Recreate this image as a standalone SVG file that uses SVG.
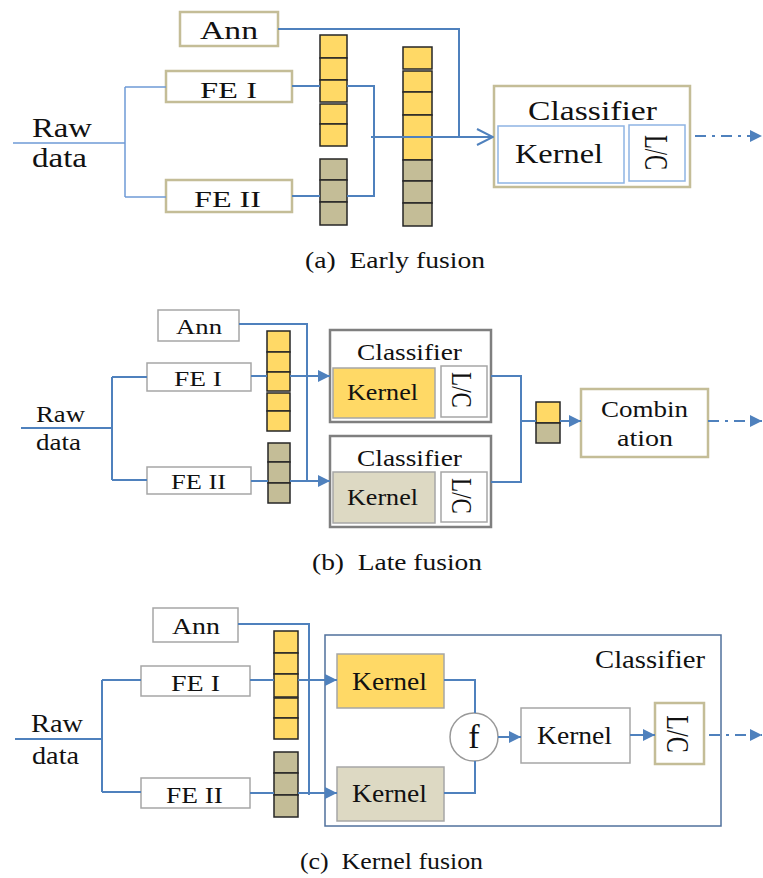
<svg xmlns="http://www.w3.org/2000/svg" width="763" height="878" viewBox="0 0 763 878">
<style>
.t{font-family:"Liberation Serif","Times New Roman",serif;fill:#111}
.tan{fill:#fff;stroke:#c4bd97;stroke-width:2.5}
.gb{fill:#fff;stroke:#a6a6a6;stroke-width:1.5}
.cls{fill:#fff;stroke:#7f7f7f;stroke-width:2.5}
.lb{fill:#fff;stroke:#8eb4e3;stroke-width:1.5}
.y{fill:#ffd966;stroke:#262626;stroke-width:1.5}
.g{fill:#c4bd97;stroke:#262626;stroke-width:1.5}
.ky{fill:#ffd966;stroke:#a6a6a6;stroke-width:1.5}
.kg{fill:#ddd9c3;stroke:#a6a6a6;stroke-width:1.5}
.c{fill:none;stroke:#4f81bd;stroke-width:2}
.cl{fill:none;stroke:#6f9bd6;stroke-width:1.5}
.dd{fill:none;stroke:#4f81bd;stroke-width:2;stroke-dasharray:11 6 3 6}
</style>
<defs>
<marker id="tri" markerUnits="userSpaceOnUse" markerWidth="12" markerHeight="12" refX="12" refY="6" orient="auto"><path d="M0,0 L12,6 L0,12 z" fill="#4f81bd"/></marker>
<marker id="chev" markerUnits="userSpaceOnUse" markerWidth="18" markerHeight="18" refX="17" refY="9" orient="auto"><path d="M1,1 L17,9 L1,17" fill="none" stroke="#4f81bd" stroke-width="2"/></marker>
</defs>

<!-- Panel (a) -->
<g id="a-ann"><rect class="tan" x="180" y="12" width="98" height="34"/><text class="t" x="200" y="39" font-size="25" textLength="58" lengthAdjust="spacingAndGlyphs">Ann</text></g>
<g id="a-fe1"><rect class="tan" x="166" y="71" width="126" height="31"/><text class="t" x="200" y="98" font-size="24" textLength="57" lengthAdjust="spacingAndGlyphs">FE I</text></g>
<g id="a-fe2"><rect class="tan" x="166" y="180" width="126" height="32"/><text class="t" x="194" y="207" font-size="24" textLength="67" lengthAdjust="spacingAndGlyphs">FE II</text></g>
<g id="a-raw"><text class="t" x="32" y="137" font-size="28" textLength="60" lengthAdjust="spacingAndGlyphs">Raw</text><text class="t" x="32" y="167" font-size="28" textLength="55" lengthAdjust="spacingAndGlyphs">data</text></g>
<g id="a-vec1">
<rect class="y" x="320" y="35" width="27" height="23"/><rect class="y" x="320" y="58" width="27" height="22"/><rect class="y" x="320" y="80" width="27" height="22"/>
<rect class="y" x="320" y="104" width="27" height="20"/><rect class="y" x="320" y="124" width="27" height="22"/>
<rect class="g" x="320" y="159" width="27" height="21"/><rect class="g" x="320" y="180" width="27" height="22"/><rect class="g" x="320" y="202" width="27" height="23"/>
</g>
<g id="a-vec2">
<rect class="y" x="403" y="47" width="29" height="22"/><rect class="y" x="403" y="71" width="29" height="21"/><rect class="y" x="403" y="92" width="29" height="23"/>
<rect class="y" x="403" y="115" width="29" height="22"/><rect class="y" x="403" y="137" width="29" height="23"/>
<rect class="g" x="403" y="160" width="29" height="21"/><rect class="g" x="403" y="181" width="29" height="22"/><rect class="g" x="403" y="203" width="29" height="23"/>
</g>
<g id="a-classifier">
<rect class="tan" x="494" y="86" width="196" height="101"/>
<text class="t" x="528" y="120" font-size="27" textLength="129" lengthAdjust="spacingAndGlyphs">Classifier</text>
<rect class="lb" x="498" y="126" width="126" height="57"/>
<text class="t" x="515" y="163" font-size="27" textLength="88" lengthAdjust="spacingAndGlyphs">Kernel</text>
<rect class="lb" x="629" y="125" width="56" height="56"/>
<text class="t" font-size="22.5" text-anchor="middle" transform="translate(645,152.5) scale(1.5,1) rotate(90)">L/C</text>
</g>

<!-- Panel (b) -->
<g id="b-ann"><rect class="gb" x="158" y="310" width="81" height="31"/><text class="t" x="176" y="334" font-size="22" textLength="46" lengthAdjust="spacingAndGlyphs">Ann</text></g>
<g id="b-fe1"><rect class="gb" x="147" y="363" width="104" height="28"/><text class="t" x="174" y="386" font-size="22" textLength="48" lengthAdjust="spacingAndGlyphs">FE I</text></g>
<g id="b-fe2"><rect class="gb" x="147" y="467" width="104" height="27"/><text class="t" x="171" y="489" font-size="22" textLength="55" lengthAdjust="spacingAndGlyphs">FE II</text></g>
<g id="b-raw"><text class="t" x="36" y="422" font-size="24" textLength="49" lengthAdjust="spacingAndGlyphs">Raw</text><text class="t" x="36" y="450" font-size="24" textLength="45" lengthAdjust="spacingAndGlyphs">data</text></g>
<g id="b-vec1">
<rect class="y" x="267" y="331" width="23" height="21"/><rect class="y" x="267" y="352" width="23" height="20"/><rect class="y" x="267" y="372" width="23" height="19"/>
<rect class="y" x="267" y="393" width="23" height="18"/><rect class="y" x="267" y="411" width="23" height="20"/>
</g>
<g id="b-vec2">
<rect class="g" x="268" y="443" width="22" height="19"/><rect class="g" x="268" y="462" width="22" height="21"/><rect class="g" x="268" y="483" width="22" height="20"/>
</g>
<g id="b-classifier1">
<rect class="cls" x="330" y="330" width="161" height="92"/>
<text class="t" x="357" y="360" font-size="23" textLength="105" lengthAdjust="spacingAndGlyphs">Classifier</text>
<rect class="ky" x="333" y="368" width="102" height="50"/>
<text class="t" x="347" y="400" font-size="23" textLength="71" lengthAdjust="spacingAndGlyphs">Kernel</text>
<rect class="gb" x="441" y="366" width="46" height="51"/>
<text class="t" font-size="23" text-anchor="middle" transform="translate(452,390) scale(1.3,1) rotate(90)">L/C</text>
</g>
<g id="b-classifier2">
<rect class="cls" x="330" y="436" width="161" height="91"/>
<text class="t" x="357" y="466" font-size="23" textLength="105" lengthAdjust="spacingAndGlyphs">Classifier</text>
<rect class="kg" x="333" y="472" width="102" height="51"/>
<text class="t" x="347" y="505" font-size="23" textLength="71" lengthAdjust="spacingAndGlyphs">Kernel</text>
<rect class="gb" x="441" y="472" width="46" height="50"/>
<text class="t" font-size="23" text-anchor="middle" transform="translate(452,496) scale(1.3,1) rotate(90)">L/C</text>
</g>
<g id="b-scores"><rect class="y" x="536" y="402" width="24" height="21"/><rect class="g" x="536" y="423" width="24" height="20"/></g>
<g id="b-combination">
<rect class="tan" x="581" y="389" width="127" height="68"/>
<text class="t" x="601" y="417" font-size="24" textLength="87" lengthAdjust="spacingAndGlyphs">Combin</text>
<text class="t" x="617" y="446" font-size="24" textLength="56" lengthAdjust="spacingAndGlyphs">ation</text>
</g>

<!-- Panel (c) -->
<g id="c-ann"><rect class="gb" x="153" y="608" width="85" height="34"/><text class="t" x="172" y="634" font-size="24" textLength="48" lengthAdjust="spacingAndGlyphs">Ann</text></g>
<g id="c-fe1"><rect class="gb" x="141" y="666" width="109" height="30"/><text class="t" x="171" y="691" font-size="23" textLength="49" lengthAdjust="spacingAndGlyphs">FE I</text></g>
<g id="c-fe2"><rect class="gb" x="141" y="778" width="109" height="30"/><text class="t" x="166" y="803" font-size="23" textLength="57" lengthAdjust="spacingAndGlyphs">FE II</text></g>
<g id="c-raw"><text class="t" x="31" y="732" font-size="26" textLength="52" lengthAdjust="spacingAndGlyphs">Raw</text><text class="t" x="32" y="764" font-size="26" textLength="47" lengthAdjust="spacingAndGlyphs">data</text></g>
<g id="c-vec1">
<rect class="y" x="274" y="631" width="24" height="22"/><rect class="y" x="274" y="653" width="24" height="21"/><rect class="y" x="274" y="674" width="24" height="23"/>
<rect class="y" x="274" y="698" width="24" height="20"/><rect class="y" x="274" y="718" width="24" height="21"/>
</g>
<g id="c-vec2">
<rect class="g" x="274" y="752" width="24" height="21"/><rect class="g" x="274" y="773" width="24" height="22"/><rect class="g" x="274" y="795" width="24" height="22"/>
</g>
<g id="c-classifier">
<rect x="325" y="635" width="396" height="191" fill="#fff" stroke="#50709c" stroke-width="1.5"/>
<text class="t" x="595" y="668" font-size="25" textLength="110" lengthAdjust="spacingAndGlyphs">Classifier</text>
</g>
<g id="c-kernel1"><rect class="ky" x="337" y="654" width="107" height="54"/><text class="t" x="352" y="690" font-size="25" textLength="75" lengthAdjust="spacingAndGlyphs">Kernel</text></g>
<g id="c-kernel2"><rect class="kg" x="337" y="767" width="107" height="54"/><text class="t" x="352" y="802" font-size="25" textLength="75" lengthAdjust="spacingAndGlyphs">Kernel</text></g>
<g id="c-f"><circle cx="474" cy="737" r="24" fill="#fff" stroke="#999" stroke-width="1.5"/><text class="t" x="474" y="748" font-size="34" text-anchor="middle">f</text></g>
<g id="c-kernel3"><rect class="gb" x="521" y="708" width="109" height="55"/><text class="t" x="537" y="744" font-size="25" textLength="75" lengthAdjust="spacingAndGlyphs">Kernel</text></g>
<g id="c-lc"><rect class="tan" x="655" y="703" width="49" height="61"/><text class="t" font-size="24" text-anchor="middle" transform="translate(667,734) scale(1.32,1) rotate(90)">L/C</text></g>

<!-- Captions -->
<g id="captions">
<text class="t" x="305" y="268" font-size="23" textLength="180" lengthAdjust="spacingAndGlyphs" xml:space="preserve">(a)  Early fusion</text>
<text class="t" x="312" y="570" font-size="23" textLength="170" lengthAdjust="spacingAndGlyphs" xml:space="preserve">(b)  Late fusion</text>
<text class="t" x="300" y="869" font-size="23" textLength="183" lengthAdjust="spacingAndGlyphs" xml:space="preserve">(c)  Kernel fusion</text>
</g>

<!-- Connectors -->
<g id="connectors">
<path class="cl" d="M13,143 H125 M125,87 V197 M125,87 H166 M125,197 H166"/>
<path class="c" d="M292,86 H320 M347,86 H374 V196 H347 M320,196 H292"/>
<path class="c" d="M278,29 H459 V137"/>
<path class="c" d="M371,137 H493" marker-end="url(#chev)"/>
<path class="dd" d="M695,136 H762" marker-end="url(#tri)"/>

<path class="c" d="M21,428 H112 M112,377 V480 M112,377 H147 M112,480 H147"/>
<path class="c" d="M251,376 H267 M251,481 H268"/>
<path class="c" d="M239,324 H307 V482"/>
<path class="c" d="M290,376 H330" marker-end="url(#tri)"/>
<path class="c" d="M290,481 H330" marker-end="url(#tri)"/>
<path class="c" d="M491,376 H521 V482 H491 M521,421 H536"/>
<path class="c" d="M560,421 H581" marker-end="url(#tri)"/>
<path class="dd" d="M708,421 H762" marker-end="url(#tri)"/>

<path class="c" d="M15,739 H102 M102,680 V792 M102,680 H141 M102,792 H141"/>
<path class="c" d="M250,680 H274 M250,793 H274"/>
<path class="c" d="M238,624 H309 V795"/>
<path class="c" d="M298,680 H337" marker-end="url(#tri)"/>
<path class="c" d="M298,793 H337" marker-end="url(#tri)"/>
<path class="c" d="M444,680 H475 V713 M444,793 H475 V761"/>
<path class="c" d="M498,737 H521" marker-end="url(#tri)"/>
<path class="c" d="M630,735 H655" marker-end="url(#tri)"/>
<path class="dd" d="M709,735 H762" marker-end="url(#tri)"/>
</g>
</svg>
